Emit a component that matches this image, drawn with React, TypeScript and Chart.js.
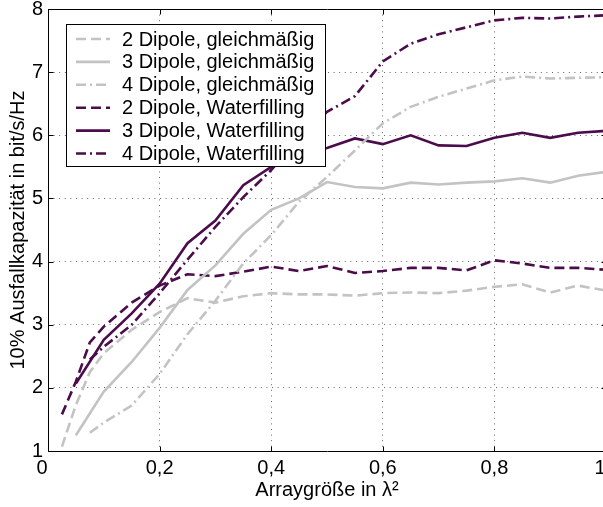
import React, { useEffect, useRef } from 'react';
import { Chart, registerables } from 'chart.js';
Chart.register(...registerables);

// x positions (array size in lambda^2)
const X2 = [0.025, 0.05, 0.075, 0.1, 0.15, 0.2, 0.25, 0.3, 0.35, 0.4, 0.45, 0.5, 0.55, 0.6, 0.65, 0.7, 0.75, 0.8, 0.85, 0.9, 0.95, 1.0];
const X3 = [0.05, 0.1, 0.15, 0.2, 0.25, 0.3, 0.35, 0.4, 0.45, 0.5, 0.55, 0.6, 0.65, 0.7, 0.75, 0.8, 0.85, 0.9, 0.95, 1.0];
const X4 = [0.075, 0.1, 0.15, 0.2, 0.25, 0.3, 0.35, 0.4, 0.45, 0.5, 0.55, 0.6, 0.65, 0.7, 0.75, 0.8, 0.85, 0.9, 0.95, 1.0];

const GLEICH2 = [1.07, 1.73, 2.25, 2.55, 2.92, 3.2, 3.42, 3.35, 3.45, 3.5, 3.48, 3.48, 3.46, 3.5, 3.51, 3.5, 3.54, 3.6, 3.64, 3.51, 3.62, 3.54];
const GLEICH3 = [1.25, 1.94, 2.41, 2.95, 3.55, 3.94, 4.44, 4.82, 5.0, 5.26, 5.18, 5.16, 5.25, 5.22, 5.25, 5.27, 5.32, 5.25, 5.36, 5.42];
const GLEICH4 = [1.29, 1.45, 1.72, 2.22, 2.85, 3.38, 3.97, 4.42, 4.95, 5.34, 5.76, 6.19, 6.45, 6.61, 6.74, 6.87, 6.93, 6.9, 6.91, 6.92];
const WATER2 = [1.58, 2.1, 2.72, 2.97, 3.35, 3.62, 3.8, 3.77, 3.84, 3.92, 3.85, 3.93, 3.82, 3.85, 3.9, 3.9, 3.86, 4.02, 3.97, 3.9, 3.9, 3.87];
const WATER3 = [2.07, 2.76, 3.18, 3.65, 4.29, 4.65, 5.21, 5.5, 5.72, 5.8, 5.95, 5.86, 6.0, 5.84, 5.83, 5.96, 6.04, 5.96, 6.04, 6.07];
const WATER4 = [2.45, 2.65, 3.0, 3.5, 4.03, 4.55, 5.02, 5.45, 5.95, 6.37, 6.62, 7.17, 7.45, 7.6, 7.71, 7.82, 7.86, 7.85, 7.88, 7.9];

const LABELS = [
  '2 Dipole, gleichmäßig',
  '3 Dipole, gleichmäßig',
  '4 Dipole, gleichmäßig',
  '2 Dipole, Waterfilling',
  '3 Dipole, Waterfilling',
  '4 Dipole, Waterfilling',
];
const X_TICKS = [0, 0.2, 0.4, 0.6, 0.8, 1];
const X_TICK_LABELS = ['0', '0,2', '0,4', '0,6', '0,8', '1'];
const Y_TICKS = [1, 2, 3, 4, 5, 6, 7, 8];
const X_TITLE = 'Arraygröße in λ²';
const Y_TITLE = '10% Ausfallkapazität in bit/s/Hz';

const GRAY = '#c3c3c3';
const PURPLE = '#4b0c4b';
const DASH = [10, 5];
const DASHDOT = [10, 4, 2, 4];
const FONT = 'Liberation Sans, Arial, sans-serif';
const FS = 20;

const W = 620;
const H = 507;

function pts(xs: number[], ys: number[]) {
  return xs.map((x, i) => ({ x, y: ys[i] }));
}

const framePlugin = {
  id: 'frame',
  afterDraw(chart: any) {
    const { ctx, chartArea: a, scales } = chart;
    ctx.save();
    ctx.strokeStyle = '#000';
    ctx.lineWidth = 1;
    ctx.setLineDash([]);
    ctx.beginPath();
    const L = Math.round(a.left) + 0.5, R = Math.round(a.right) + 0.5;
    const T = Math.round(a.top) + 0.5, B = Math.round(a.bottom) + 0.5;
    ctx.rect(L, T, R - L, B - T);
    const tl = 5;
    X_TICKS.forEach((v) => {
      const px = Math.round(scales.x.getPixelForValue(v)) + 0.5;
      ctx.moveTo(px, B); ctx.lineTo(px, B - tl);
      ctx.moveTo(px, T); ctx.lineTo(px, T + tl);
    });
    Y_TICKS.forEach((v) => {
      const py = Math.round(scales.y.getPixelForValue(v)) + 0.5;
      ctx.moveTo(L, py); ctx.lineTo(L + tl, py);
      ctx.moveTo(R, py); ctx.lineTo(R - tl, py);
    });
    ctx.stroke();
    // x tick labels (end labels sit slightly inward-left as in the original)
    ctx.fillStyle = '#000';
    ctx.font = `${FS}px ${FONT}`;
    ctx.textAlign = 'center';
    ctx.textBaseline = 'top';
    X_TICKS.forEach((v, i) => {
      let px = scales.x.getPixelForValue(v);
      if (i === 0 || i === X_TICKS.length - 1) px -= 6;
      ctx.fillText(X_TICK_LABELS[i], px, B + 7);
    });
    ctx.restore();
  },
};

const legendPlugin = {
  id: 'boxLegend',
  afterDatasetsDraw(chart: any) {
    const { ctx } = chart;
    const left = 66, top = 24, right = 325, bottom = 166;
    ctx.save();
    ctx.fillStyle = '#fff';
    ctx.fillRect(left, top, right - left, bottom - top);
    ctx.strokeStyle = '#000';
    ctx.lineWidth = 1;
    ctx.setLineDash([]);
    ctx.strokeRect(left + 0.5, top + 0.5, right - left, bottom - top);
    const rowH = 22.9;
    const y0 = 39;
    ctx.font = `${FS}px ${FONT}`;
    ctx.textBaseline = 'middle';
    ctx.textAlign = 'left';
    chart.data.datasets.forEach((ds: any, i: number) => {
      const y = y0 + i * rowH;
      ctx.strokeStyle = ds.borderColor;
      ctx.lineWidth = ds.borderWidth;
      ctx.setLineDash(ds.borderDash || []);
      ctx.beginPath();
      ctx.moveTo(76, y);
      ctx.lineTo(110, y);
      ctx.stroke();
      ctx.setLineDash([]);
      ctx.fillStyle = '#000';
      ctx.fillText(ds.label, 122, y + 1);
    });
    ctx.restore();
  },
};

export default function App() {
  const ref = useRef<HTMLCanvasElement | null>(null);
  useEffect(() => {
    if (!ref.current) return;
    const mk = (label: string, xs: number[], ys: number[], color: string, dash: number[]) => ({
      label,
      data: pts(xs, ys),
      borderColor: color,
      backgroundColor: color,
      borderWidth: 2.6,
      borderDash: dash,
      pointRadius: 0,
      tension: 0,
      fill: false,
      borderCapStyle: 'butt',
    });
    const chart = new Chart(ref.current, {
      type: 'line',
      data: {
        datasets: [
          mk(LABELS[0], X2, GLEICH2, GRAY, DASH),
          mk(LABELS[1], X3, GLEICH3, GRAY, []),
          mk(LABELS[2], X4, GLEICH4, GRAY, DASHDOT),
          mk(LABELS[3], X2, WATER2, PURPLE, DASH),
          mk(LABELS[4], X3, WATER3, PURPLE, []),
          mk(LABELS[5], X4, WATER4, PURPLE, DASHDOT),
        ] as any,
      },
      options: {
        responsive: false,
        animation: false,
        devicePixelRatio: 1,
        layout: { padding: { left: 0, top: 9, right: W - 606, bottom: 0 } },
        plugins: { legend: { display: false }, tooltip: { enabled: false } },
        scales: {
          x: {
            type: 'linear',
            min: 0,
            max: 1,
            afterBuildTicks: (s: any) => { s.ticks = X_TICKS.map((v) => ({ value: v })); },
            afterFit: (s: any) => { s.height = H - 451; s.paddingLeft = 0; s.paddingRight = 0; },
            ticks: { display: false, autoSkip: false },
            grid: { color: 'rgba(0,0,0,0.6)', lineWidth: 1, drawTicks: false },
            border: { display: false, dash: [1, 4.6] },
            title: { display: true, text: X_TITLE, color: '#000', font: { family: FONT, size: FS }, padding: { top: 0, bottom: 5 } },
          },
          y: {
            type: 'linear',
            min: 1,
            max: 8,
            afterBuildTicks: (s: any) => { s.ticks = Y_TICKS.map((v) => ({ value: v })); },
            afterFit: (s: any) => { s.width = 48; s.paddingTop = 0; s.paddingBottom = 0; },
            ticks: {
              autoSkip: false,
              padding: 5,
              color: '#000',
              font: { family: FONT, size: FS },
            },
            grid: { color: 'rgba(0,0,0,0.6)', lineWidth: 1, drawTicks: false },
            border: { display: false, dash: [1, 4.6] },
            title: { display: true, text: Y_TITLE, color: '#000', font: { family: FONT, size: FS }, padding: { top: 6, bottom: 0 } },
          },
        },
      },
      plugins: [legendPlugin, framePlugin],
    } as any);
    return () => chart.destroy();
  }, []);
  return (
    <div style={{ position: 'fixed', left: 0, top: 0, width: 603, height: 507, overflow: 'hidden', background: '#fff' }}>
      <canvas ref={ref} width={W} height={H} style={{ display: 'block', width: W, height: H }} />
    </div>
  );
}
